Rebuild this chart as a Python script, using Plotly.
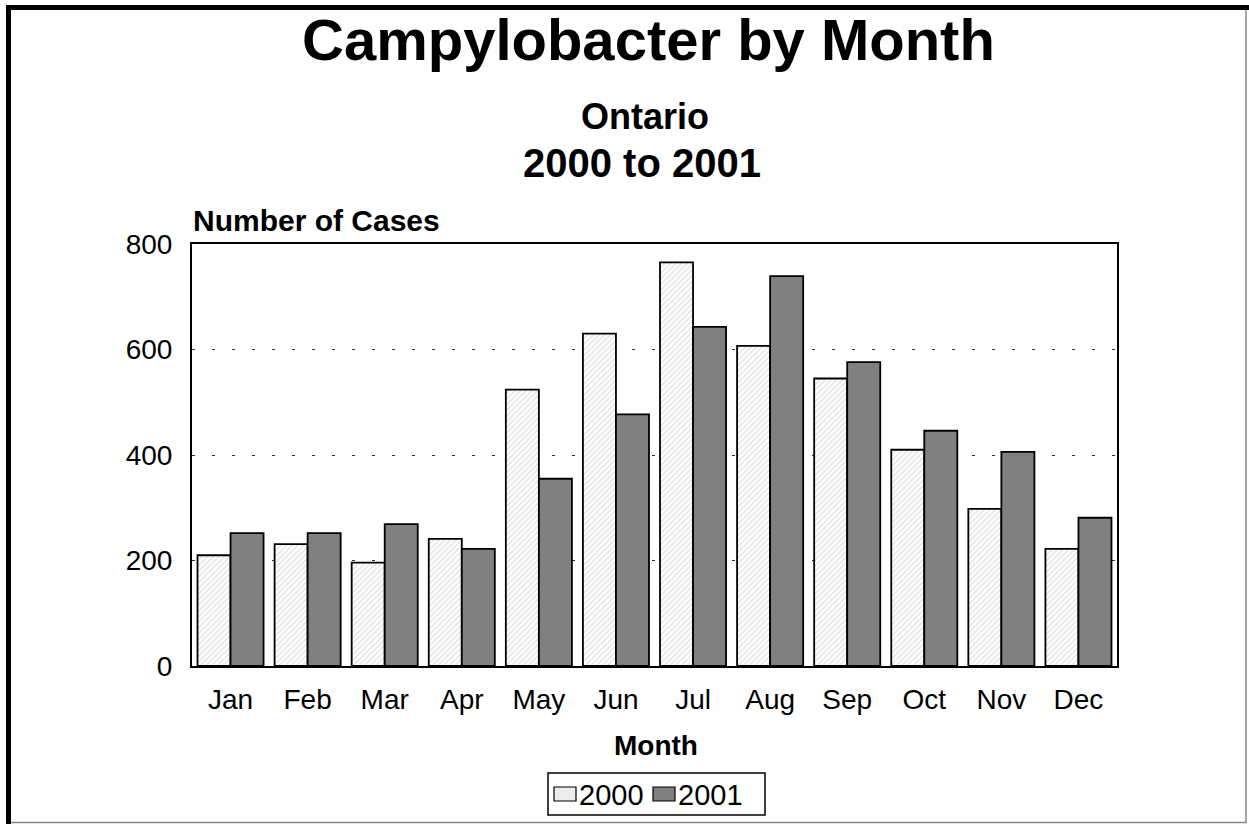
import plotly.graph_objects as go

months = ["Jan", "Feb", "Mar", "Apr", "May", "Jun", "Jul", "Aug", "Sep", "Oct", "Nov", "Dec"]
cases_2000 = [210, 231, 196, 241, 524, 630, 765, 607, 545, 410, 298, 222]
cases_2001 = [252, 252, 269, 222, 355, 477, 643, 739, 576, 446, 406, 281]
y_ticks = [0, 200, 400, 600, 800]
series_names = ["2000", "2001"]

W, H = 1249, 824
L, R, T, B = 192, 1117, 244, 666  # plot area in pixels
FONT = "Liberation Sans, Arial, sans-serif"


def px_x(p):
    return (p - L) / (R - L)


def px_y(p):
    return (B - p) / (B - T)


fig = go.Figure()
fig.add_trace(go.Bar(
    x=months, y=cases_2000, name=series_names[0],
    marker=dict(color="white",
                line=dict(color="black", width=1.8),
                pattern=dict(shape="/", fgcolor="#bdbdbd", bgcolor="white",
                             size=4, solidity=0.3)),
))
fig.add_trace(go.Bar(
    x=months, y=cases_2001, name=series_names[1],
    marker=dict(color="#808080", line=dict(color="black", width=1.8)),
))


def paper_rect(x0, y0, x1, y1, fill, lw=1.2, color="black"):
    return dict(type="rect", xref="paper", yref="paper",
                x0=px_x(x0), x1=px_x(x1), y0=px_y(y0), y1=px_y(y1),
                fillcolor=fill, line=dict(color=color, width=lw))


shapes = [
    # frame: thin gray right/bottom, thick black top/left bands
    paper_rect(8, 8, 1246, 822.5, "rgba(0,0,0,0)", 1.5, "#888888"),
    paper_rect(6, 5, W, 10, "black", 0),
    paper_rect(6, 5, 11, H, "black", 0),
    # legend box and swatches
    paper_rect(548, 773, 765, 815, "white", 1.5),
    paper_rect(554, 787, 576, 801, "#ececec", 1.2),
    paper_rect(653, 787, 675, 801, "#808080", 1.2),
]

annotations = [
    dict(text="<b>Campylobacter by Month</b>", x=px_x(648), y=px_y(40), xref="paper", yref="paper",
         xanchor="center", yanchor="middle", showarrow=False, font=dict(family=FONT, size=58, color="black")),
    dict(text="<b>Ontario</b>", x=px_x(645), y=px_y(116), xref="paper", yref="paper",
         xanchor="center", yanchor="middle", showarrow=False, font=dict(family=FONT, size=36, color="black")),
    dict(text="<b>2000 to 2001</b>", x=px_x(642), y=px_y(163), xref="paper", yref="paper",
         xanchor="center", yanchor="middle", showarrow=False, font=dict(family=FONT, size=40, color="black")),
    dict(text="<b>Number of Cases</b>", x=px_x(191), y=px_y(221), xref="paper", yref="paper",
         xanchor="left", yanchor="middle", showarrow=False, font=dict(family=FONT, size=30, color="black")),
    dict(text="<b>Month</b>", x=px_x(656), y=px_y(745), xref="paper", yref="paper",
         xanchor="center", yanchor="middle", showarrow=False, font=dict(family=FONT, size=28, color="black")),
    dict(text=series_names[0], x=px_x(577), y=px_y(795), xref="paper", yref="paper",
         xanchor="left", yanchor="middle", showarrow=False, font=dict(family=FONT, size=29, color="black")),
    dict(text=series_names[1], x=px_x(676), y=px_y(795), xref="paper", yref="paper",
         xanchor="left", yanchor="middle", showarrow=False, font=dict(family=FONT, size=29, color="black")),
]

fig.update_layout(
    width=W, height=H,
    margin=dict(l=L, r=W - R, t=T, b=H - B, pad=0),
    paper_bgcolor="white", plot_bgcolor="white",
    barmode="group", bargap=0.143, bargroupgap=0,
    font=dict(family=FONT, size=28, color="black"),
    showlegend=False,
    shapes=shapes,
    annotations=annotations,
)
fig.update_xaxes(showline=True, linecolor="black", linewidth=2, mirror=True,
                 ticks="", showgrid=False, ticklabelstandoff=7,
                 tickfont=dict(family=FONT, size=28, color="black"))
fig.update_yaxes(range=[0, 800], tickvals=y_ticks, showline=True, linecolor="black", linewidth=2,
                 mirror=True, ticks="", showgrid=True, gridcolor="#333333", gridwidth=1,
                 griddash="3px,17px", zeroline=False, ticklabelstandoff=12,
                 tickfont=dict(family=FONT, size=28, color="black"))

fig.write_html("out.html", config={"displayModeBar": False},
               post_script="document.body.style.margin='0px';document.body.style.overflow='hidden';")
